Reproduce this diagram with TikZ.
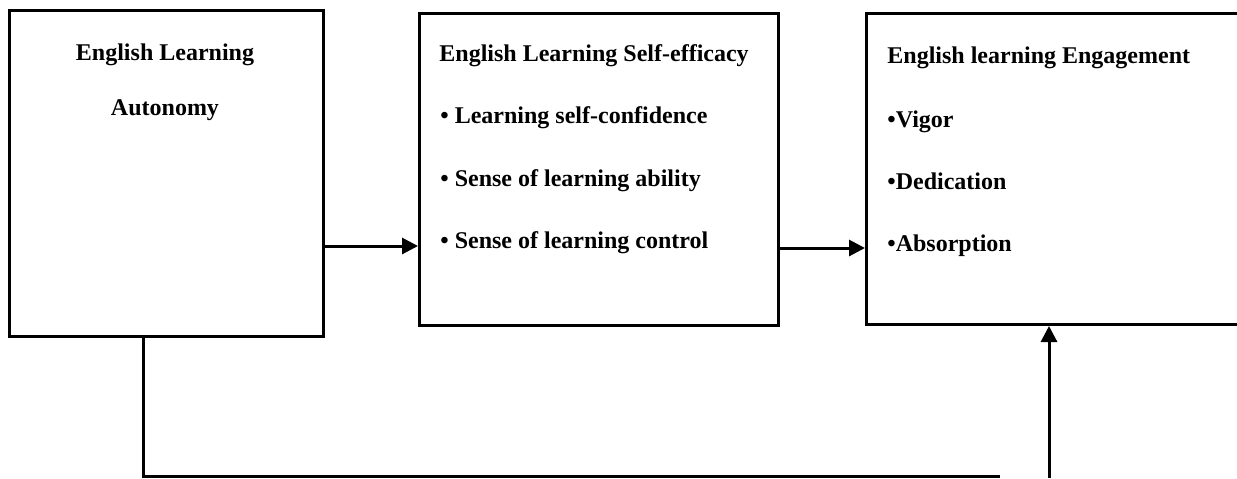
\documentclass[tikz,border=0pt]{standalone}
\usepackage{fontspec}
\setmainfont{Liberation Serif}
\usetikzlibrary{arrows.meta}
\tikzset{
  box/.style={draw=black, line width=1.5pt, rectangle, inner sep=0pt, anchor=north west},
  lbl/.style={inner sep=0pt, font=\fontsize{12pt}{14pt}\selectfont\bfseries},
  conn/.style={draw=black, line width=1.5pt},
  arr/.style={conn, -{Triangle[length=8pt,width=8pt]}}
}
\begin{document}
\begin{tikzpicture}[x=0.5pt,y=-0.5pt]
\useasboundingbox (0,0) rectangle (1237,478);
\clip (0,0) rectangle (1237,478);
% boxes
\node[box, minimum width=157pt, minimum height=163pt] (b1) at (8,9) {};
\node[box, minimum width=179.5pt, minimum height=156pt] (b2) at (418,12) {};
\node[box, minimum width=192.5pt, minimum height=155.5pt] (b3) at (865,12) {};
% box 1 text
\node[lbl, anchor=base] (t11) at (165,60) {English Learning};
\node[lbl, anchor=base] (t12) at (165,115) {Autonomy};
% box 2 text
\node[lbl, anchor=base west] (t21) at (439,61) {English Learning Self-efficacy};
\node[lbl, anchor=base west] (t22) at (440,123) {\textbullet{} Learning self-confidence};
\node[lbl, anchor=base west] (t23) at (440,186) {\textbullet{} Sense of learning ability};
\node[lbl, anchor=base west] (t24) at (440,248) {\textbullet{} Sense of learning control};
% box 3 text
\node[lbl, anchor=base west] (t31) at (887,63) {English learning Engagement};
\node[lbl, anchor=base west] (t32) at (887,127) {\textbullet Vigor};
\node[lbl, anchor=base west] (t33) at (887,189) {\textbullet Dedication};
\node[lbl, anchor=base west] (t34) at (887,251) {\textbullet Absorption};
% connectors
\coordinate (y1) at (0,246);
\coordinate (y2) at (0,248);
\coordinate (dx) at (143,0);
\coordinate (lend) at (1000,476);
\coordinate (aup) at (1049,478);
\draw[arr] (b1.east |- y1) -- (b2.west |- y1);
\draw[arr] (b2.east |- y2) -- (b3.west |- y2);
\draw[conn] (b1.south -| dx) |- (lend);
\draw[arr] (aup) -- (b3.south -| aup);
\end{tikzpicture}
\end{document}
